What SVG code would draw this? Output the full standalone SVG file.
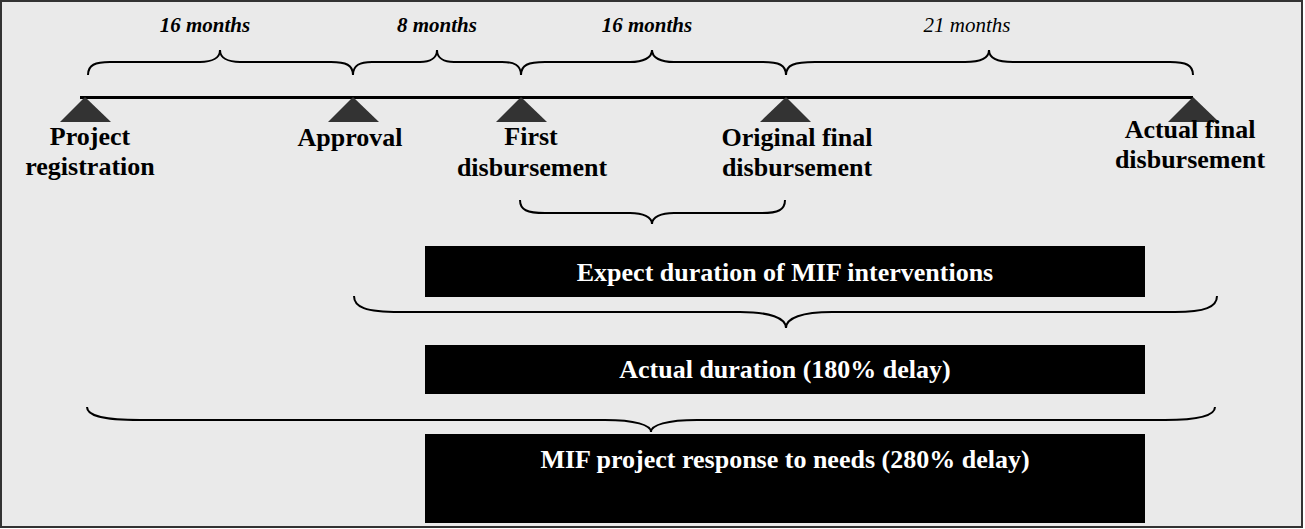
<svg xmlns="http://www.w3.org/2000/svg" width="1305" height="529" viewBox="0 0 1305 529">
<style>
.lbl{font-family:"Liberation Serif","Times New Roman",serif;font-weight:bold;font-size:26px;fill:#000;text-anchor:middle}
.mo{font-family:"Liberation Serif","Times New Roman",serif;font-style:italic;font-size:21px;fill:#000;text-anchor:middle}
.b{font-weight:bold}
.box{fill:#000}
.btxt{font-family:"Liberation Serif","Times New Roman",serif;font-weight:bold;font-size:26px;fill:#fff;text-anchor:middle}
.tri{fill:#333}
.brace{fill:none;stroke:#000;stroke-width:2}
</style>
<rect x="1" y="1" width="1301" height="526" fill="#eaeaea" stroke="#333" stroke-width="2"/>
<g id="timeline">
<line x1="80" y1="97.5" x2="1193" y2="97.5" stroke="#000" stroke-width="3"/>
</g>
<g id="connectors">
<path class="brace" d="M88 75 C88 65 95 62 110 62 L200 62 C212 62 220 58 220 50 C220 58 228 62 240 62 L331 62 C346 62 353 65 353 75"/>
<path class="brace" d="M353 75 C353 65 360 62 372 62 L420 62 C430 62 437 58 437 50 C437 58 444 62 454 62 L502 62 C514 62 521 65 521 75"/>
<path class="brace" d="M521 75 C521 65 528 62 545 62 L630 62 C643 62 652 58 652 50 C652 58 661 62 674 62 L763 62 C779 62 786 65 786 75"/>
<path class="brace" d="M786 75 C786 65 794 62 815 62 L965 62 C980 62 989 58 989 50 C989 58 998 62 1013 62 L1170 62 C1186 62 1193 65 1193 75"/>
<path class="brace" d="M520 200 C520 210 527 213 545 213 L630 213 C643 213 652 217 652 224 C652 217 661 213 674 213 L762 213 C778 213 785 210 785 200"/>
<path class="brace" d="M354 296 C354 307 365 312 400 312 L740 312 C770 312 786 318 786 328 C786 318 802 312 832 312 L1175 312 C1205 312 1217 307 1217 296"/>
<path class="brace" d="M87 407 C87 415 100 420 140 420 L605 420 C635 420 651 425 651 432 C651 425 667 420 697 420 L1165 420 C1200 420 1215 415 1215 407"/>
</g>
<g id="months">
<text class="mo b" x="205" y="32">16 months</text>
<text class="mo b" x="437" y="32">8 months</text>
<text class="mo b" x="647" y="32">16 months</text>
<text class="mo" x="967" y="32">21 months</text>
</g>
<g id="node-registration">
<polygon class="tri" points="85,97 60,122 111,122"/>
<text class="lbl" x="90" y="145">Project</text>
<text class="lbl" x="90" y="175">registration</text>
</g>
<g id="node-approval">
<polygon class="tri" points="353,97 328,122 379,122"/>
<text class="lbl" x="350" y="146">Approval</text>
</g>
<g id="node-first">
<polygon class="tri" points="521,97 496,122 547,122"/>
<text class="lbl" x="531" y="145">First</text>
<text class="lbl" x="532" y="176">disbursement</text>
</g>
<g id="node-original">
<polygon class="tri" points="786,97 760,122 811,122"/>
<text class="lbl" x="797" y="146">Original final</text>
<text class="lbl" x="797" y="176">disbursement</text>
</g>
<g id="node-actual">
<polygon class="tri" points="1193,97 1168,122 1219,122"/>
<text class="lbl" x="1190" y="138">Actual final</text>
<text class="lbl" x="1190" y="168">disbursement</text>
</g>
<g id="box-expected">
<rect class="box" x="425" y="246" width="720" height="51"/>
<text class="btxt" x="785" y="281">Expect duration of MIF interventions</text>
</g>
<g id="box-actual">
<rect class="box" x="425" y="345" width="720" height="49"/>
<text class="btxt" x="785" y="378">Actual duration (180% delay)</text>
</g>
<g id="box-response">
<rect class="box" x="425" y="434" width="720" height="89"/>
<text class="btxt" x="785" y="468">MIF project response to needs (280% delay)</text>
</g>
</svg>
